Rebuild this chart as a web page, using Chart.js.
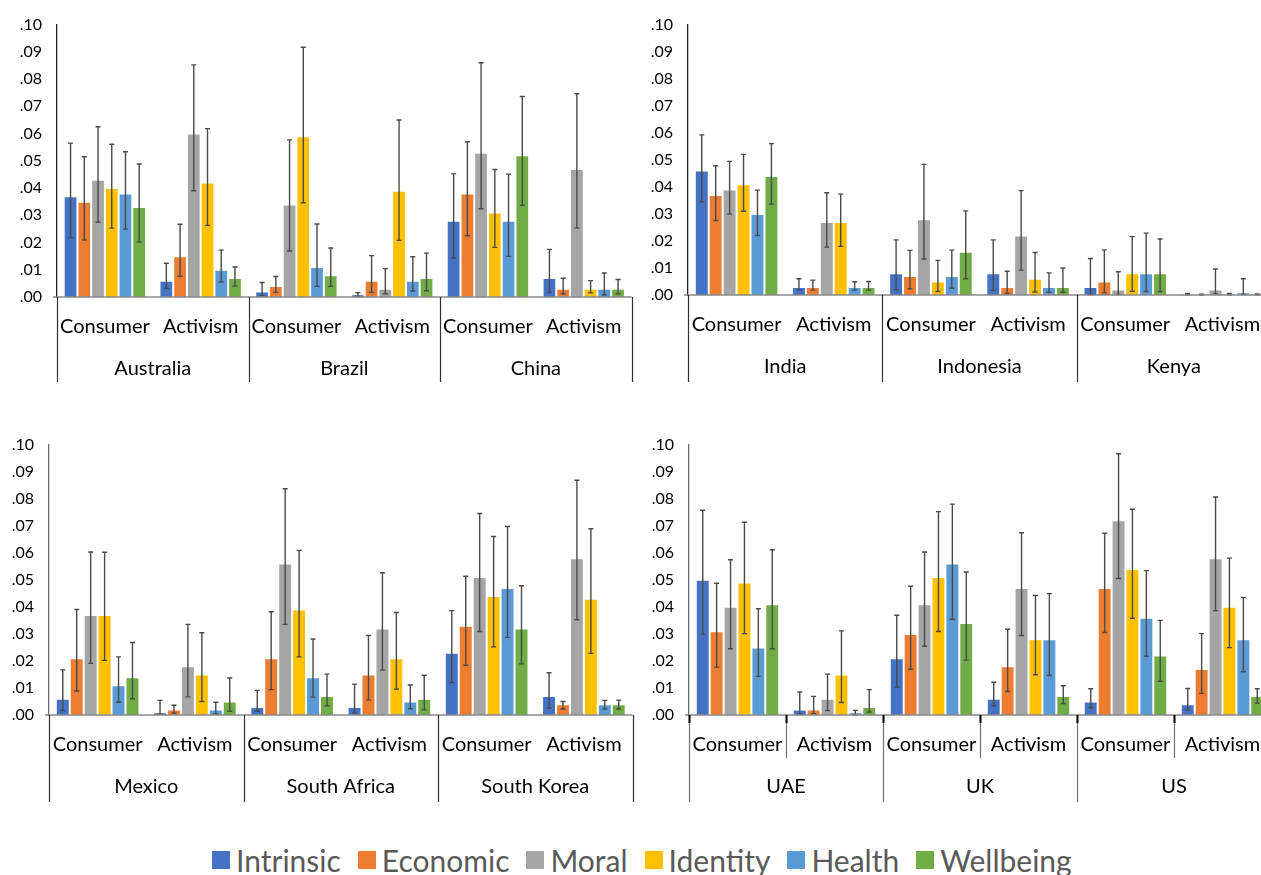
<!DOCTYPE html>
<html><head><meta charset="utf-8">
<script src="https://cdn.jsdelivr.net/npm/chart.js@4.4.1/dist/chart.umd.min.js"></script>
<style>
html,body{margin:0;padding:0;background:#fff;overflow:hidden;width:1261px;height:875px;}
.panel{position:absolute;}
.panel canvas{display:block;}
#legend{position:absolute;left:212px;top:842px;height:36px;display:flex;align-items:center;font-family:Lato,'Open Sans',sans-serif;font-size:30px;color:#595959;white-space:nowrap;}
#legend .item{display:flex;align-items:center;margin-right:17px;}
#legend .sw{width:18px;height:18px;margin-right:6px;}
</style></head><body>
<div class="panel" style="left:0px;top:0px"><canvas id="c1" width="640" height="390"></canvas></div>
<div class="panel" style="left:631px;top:0px"><canvas id="c2" width="650" height="388"></canvas></div>
<div class="panel" style="left:0px;top:420px"><canvas id="c3" width="640" height="388"></canvas></div>
<div class="panel" style="left:632px;top:420px"><canvas id="c4" width="650" height="388"></canvas></div>
<div id="legend"></div>
<script>
// ---------------- data ----------------
const seriesNames = ['Intrinsic','Economic','Moral','Identity','Health','Wellbeing'];
const seriesColors = ['#4472C4','#ED7D31','#A5A5A5','#FFC000','#5B9BD5','#70AD47'];
const typeLabels = ['Consumer','Activism'];
const yTickValues = [0,.01,.02,.03,.04,.05,.06,.07,.08,.09,.10];

// Panel 1
const p1Countries = ['Australia','Brazil','China'];
// rows = series (Intrinsic..Wellbeing); columns = Australia C, Australia A, Brazil C, Brazil A, China C, China A
const p1Mean = [
  [.037,.006,.002,.001,.028,.007],
  [.035,.015,.004,.006,.038,.003],
  [.043,.060,.034,.003,.053,.047],
  [.040,.042,.059,.039,.031,.003],
  [.038,.010,.011,.006,.028,.003],
  [.033,.007,.008,.007,.052,.003]];
const p1Low = [
  [.0218,.0032,.0005,.0002,.0142,.0017],
  [.0209,.0076,.0017,.0017,.0225,.0012],
  [.0275,.0390,.0169,.0012,.0324,.0253],
  [.0253,.0263,.0346,.0208,.0182,.0015],
  [.0249,.0055,.0039,.0022,.0149,.0008],
  [.0202,.0040,.0039,.0023,.0337,.0012]];
const p1High = [
  [.0565,.0124,.0053,.0016,.0452,.0175],
  [.0515,.0267,.0075,.0152,.0570,.0069],
  [.0625,.0852,.0577,.0104,.0860,.0746],
  [.0561,.0618,.0917,.0650,.0468,.0060],
  [.0533,.0172,.0268,.0148,.0451,.0088],
  [.0488,.0110,.0180,.0161,.0736,.0064]];

// Panel 2
const p2Countries = ['India','Indonesia','Kenya'];
const p2Mean = [
  [.046,.003,.008,.008,.003,.0003],
  [.037,.003,.007,.003,.005,.0001],
  [.039,.027,.028,.022,.002,.002],
  [.041,.027,.005,.006,.008,.0003],
  [.030,.003,.007,.003,.008,.001],
  [.044,.003,.016,.003,.008,.0002]];
const p2Low = [
  [.0345,.0018,.0019,.0017,.0002,.0001],
  [.0275,.0018,.0023,.0006,.0008,.0000],
  [.0299,.0177,.0133,.0092,.0002,.0004],
  [.0310,.0180,.0013,.0011,.0014,.0001],
  [.0220,.0018,.0025,.0010,.0013,.0002],
  [.0336,.0018,.0060,.0010,.0013,.0001]];
const p2High = [
  [.0592,.0060,.0204,.0204,.0135,.0006],
  [.0478,.0055,.0165,.0088,.0167,.0003],
  [.0494,.0378,.0483,.0386,.0086,.0096],
  [.0520,.0373,.0128,.0157,.0216,.0006],
  [.0388,.0049,.0166,.0082,.0229,.0060],
  [.0560,.0050,.0311,.0100,.0207,.0004]];

// Panel 3
const p3Countries = ['Mexico','South Africa','South Korea'];
const p3Mean = [
  [.006,.001,.003,.003,.023,.007],
  [.021,.002,.021,.015,.033,.004],
  [.037,.018,.056,.032,.051,.058],
  [.037,.015,.039,.021,.044,.043],
  [.011,.002,.014,.005,.047,.004],
  [.014,.005,.007,.006,.032,.004]];
const p3Low = [
  [.0016,.0004,.0014,.0008,.0120,.0026],
  [.0089,.0007,.0094,.0055,.0184,.0022],
  [.0191,.0067,.0335,.0166,.0309,.0352],
  [.0202,.0050,.0215,.0095,.0252,.0228],
  [.0047,.0004,.0066,.0023,.0287,.0022],
  [.0060,.0014,.0034,.0019,.0189,.0022]];
const p3High = [
  [.0167,.0054,.0091,.0114,.0386,.0156],
  [.0390,.0036,.0382,.0294,.0513,.0050],
  [.0603,.0335,.0837,.0526,.0745,.0868],
  [.0602,.0304,.0609,.0379,.0660,.0689],
  [.0215,.0047,.0281,.0111,.0697,.0054],
  [.0268,.0137,.0151,.0147,.0478,.0055]];

// Panel 4
const p4Countries = ['UAE','UK','US'];
const p4Mean = [
  [.050,.002,.021,.006,.005,.004],
  [.031,.002,.030,.018,.047,.017],
  [.040,.006,.041,.047,.072,.058],
  [.049,.015,.051,.028,.054,.040],
  [.025,.001,.056,.028,.036,.028],
  [.041,.003,.034,.007,.022,.007]];
const p4Low = [
  [.0298,.0002,.0103,.0034,.0027,.0019],
  [.0177,.0005,.0169,.0087,.0305,.0080],
  [.0245,.0016,.0254,.0294,.0505,.0386],
  [.0301,.0046,.0309,.0149,.0358,.0249],
  [.0143,.0000,.0354,.0146,.0217,.0160],
  [.0245,.0011,.0203,.0042,.0125,.0044]];
const p4High = [
  [.0757,.0085,.0369,.0121,.0097,.0098],
  [.0487,.0069,.0476,.0317,.0672,.0301],
  [.0574,.0151,.0603,.0674,.0966,.0806],
  [.0713,.0311,.0752,.0442,.0761,.0580],
  [.0393,.0017,.0780,.0449,.0534,.0435],
  [.0611,.0094,.0529,.0108,.0350,.0097]];

// ---------------- plugins ----------------
const errorBarPlugin = {
  id: 'errorBars',
  afterDatasetsDraw(chart) {
    const ctx = chart.ctx, ys = chart.scales.y;
    ctx.save();
    ctx.strokeStyle = '#4a4a4a';
    ctx.lineWidth = 1.4;
    chart.data.datasets.forEach((ds, di) => {
      const meta = chart.getDatasetMeta(di);
      meta.data.forEach((bar, i) => {
        const x = bar.x;
        const yl = ys.getPixelForValue(ds.errLow[i]);
        const yh = ys.getPixelForValue(ds.errHigh[i]);
        ctx.beginPath();
        ctx.moveTo(x, yl); ctx.lineTo(x, yh);
        ctx.moveTo(x - 2.5, yl); ctx.lineTo(x + 2.5, yl);
        ctx.moveTo(x - 2.5, yh); ctx.lineTo(x + 2.5, yh);
        ctx.stroke();
      });
    });
    ctx.restore();
  }
};

const decorPlugin = {
  id: 'decor',
  afterDraw(chart, args, o) {
    const ctx = chart.ctx, a = chart.chartArea, xs = chart.scales.x;
    const n = xs.getLabels().length;
    const line = (x1, y1, x2, y2) => { ctx.beginPath(); ctx.moveTo(x1, y1); ctx.lineTo(x2, y2); ctx.stroke(); };
    ctx.save();
    // x axis line redrawn on top of bars
    ctx.strokeStyle = '#898989'; ctx.lineWidth = 1.5;
    line(a.left - 4, a.bottom, a.right, a.bottom);
    // country dividers (and y-axis extension)
    ctx.strokeStyle = o.divColor; ctx.lineWidth = 1.2;
    for (let k = -0.5; k <= n - 0.5; k += 2) {
      const px = Math.round(xs.getPixelForValue(k)) + 0.5;
      line(px, a.bottom, px, a.bottom + o.ext);
    }
    if (o.sub) {
      for (let k = 0.5; k < n; k += 2) {
        const px = Math.round(xs.getPixelForValue(k)) + 0.5;
        line(px, a.bottom, px, a.bottom + 43);
      }
      ctx.strokeStyle = '#000'; ctx.lineWidth = 2;
      for (let k = -0.5; k <= n - 0.5; k += 1) {
        const px = Math.round(xs.getPixelForValue(k)) + 0.5;
        line(px, a.bottom, px, a.bottom + 8);
      }
    }
    ctx.restore();
  }
};

// ---------------- builder ----------------
function makePanel(id, countries, mean, low, high, o) {
  const labels = countries.flatMap(() => typeLabels);
  const datasets = seriesNames.map((name, i) => ({
    label: name,
    data: mean[i],
    errLow: low[i],
    errHigh: high[i],
    backgroundColor: seriesColors[i],
    borderColor: 'rgba(255,255,255,0.45)',
    borderWidth: 1,
    borderSkipped: 'bottom',
    xAxisID: 'x',
    barPercentage: 1,
    categoryPercentage: 0.86
  }));
  return new Chart(document.getElementById(id), {
    type: 'bar',
    data: { labels, datasets },
    plugins: [errorBarPlugin, decorPlugin],
    options: {
      responsive: false,
      animation: false,
      layout: { padding: { top: o.top, right: o.right, left: 0, bottom: 0 } },
      plugins: {
        legend: { display: false },
        tooltip: { enabled: false },
        decor: { divColor: o.divColor, ext: o.ext, sub: o.sub }
      },
      scales: {
        x: {
          axis: 'x', position: 'bottom', weight: 0, offset: true,
          afterFit(s) { s.height = 44; },
          grid: { display: false, drawTicks: false },
          border: { display: false },
          ticks: { color: '#000', font: { size: 20, family: 'Lato' }, padding: 18, maxRotation: 0, minRotation: 0, autoSkip: false }
        },
        x2: {
          type: 'category', axis: 'x', position: 'bottom', weight: 1, offset: true,
          labels: countries,
          afterFit(s) { s.height = o.h2; },
          grid: { display: false, drawTicks: false },
          border: { display: false },
          ticks: { color: '#000', font: { size: 20, family: 'Lato' }, padding: 16, maxRotation: 0, minRotation: 0, autoSkip: false }
        },
        y: {
          min: 0, max: 0.1,
          afterFit(s) { s.width = o.yw; },
          afterBuildTicks(s) { s.ticks = yTickValues.map(v => ({ value: v })); },
          grid: { display: false, drawTicks: false },
          border: { display: true, color: o.yColor, width: 1.3 },
          ticks: {
            color: '#000', font: { size: 16, family: 'Lato' }, padding: 15,
            callback: v => Number(v).toFixed(2).replace(/^0/, '')
          }
        }
      }
    }
  });
}

function build() {
  Chart.defaults.font.family = 'Lato';
  makePanel('c1', p1Countries, p1Mean, p1Low, p1High, { top: 24, right: 7, yw: 57, h2: 49, divColor: '#303030', yColor: '#202020', ext: 85, sub: false });
  makePanel('c2', p2Countries, p2Mean, p2Low, p2High, { top: 18, right: 10, yw: 57, h2: 49, divColor: '#303030', yColor: '#202020', ext: 87, sub: false });
  makePanel('c3', p3Countries, p3Mean, p3Low, p3High, { top: 17, right: 5, yw: 49, h2: 49, divColor: '#303030', yColor: '#707070', ext: 87, sub: false });
  makePanel('c4', p4Countries, p4Mean, p4Low, p4High, { top: 20, right: 11, yw: 57, h2: 49, divColor: '#707070', yColor: '#707070', ext: 87, sub: true });

  const lg = document.getElementById('legend');
  seriesNames.forEach((n, i) => {
    const it = document.createElement('div'); it.className = 'item';
    const sw = document.createElement('span'); sw.className = 'sw'; sw.style.background = seriesColors[i];
    const tx = document.createElement('span'); tx.textContent = n;
    it.appendChild(sw); it.appendChild(tx); lg.appendChild(it);
  });
}
if (document.fonts && document.fonts.load) {
  Promise.all([document.fonts.load('20px Lato'), document.fonts.load('16px Lato')]).then(build, build);
} else { build(); }
</script>
</body></html>
